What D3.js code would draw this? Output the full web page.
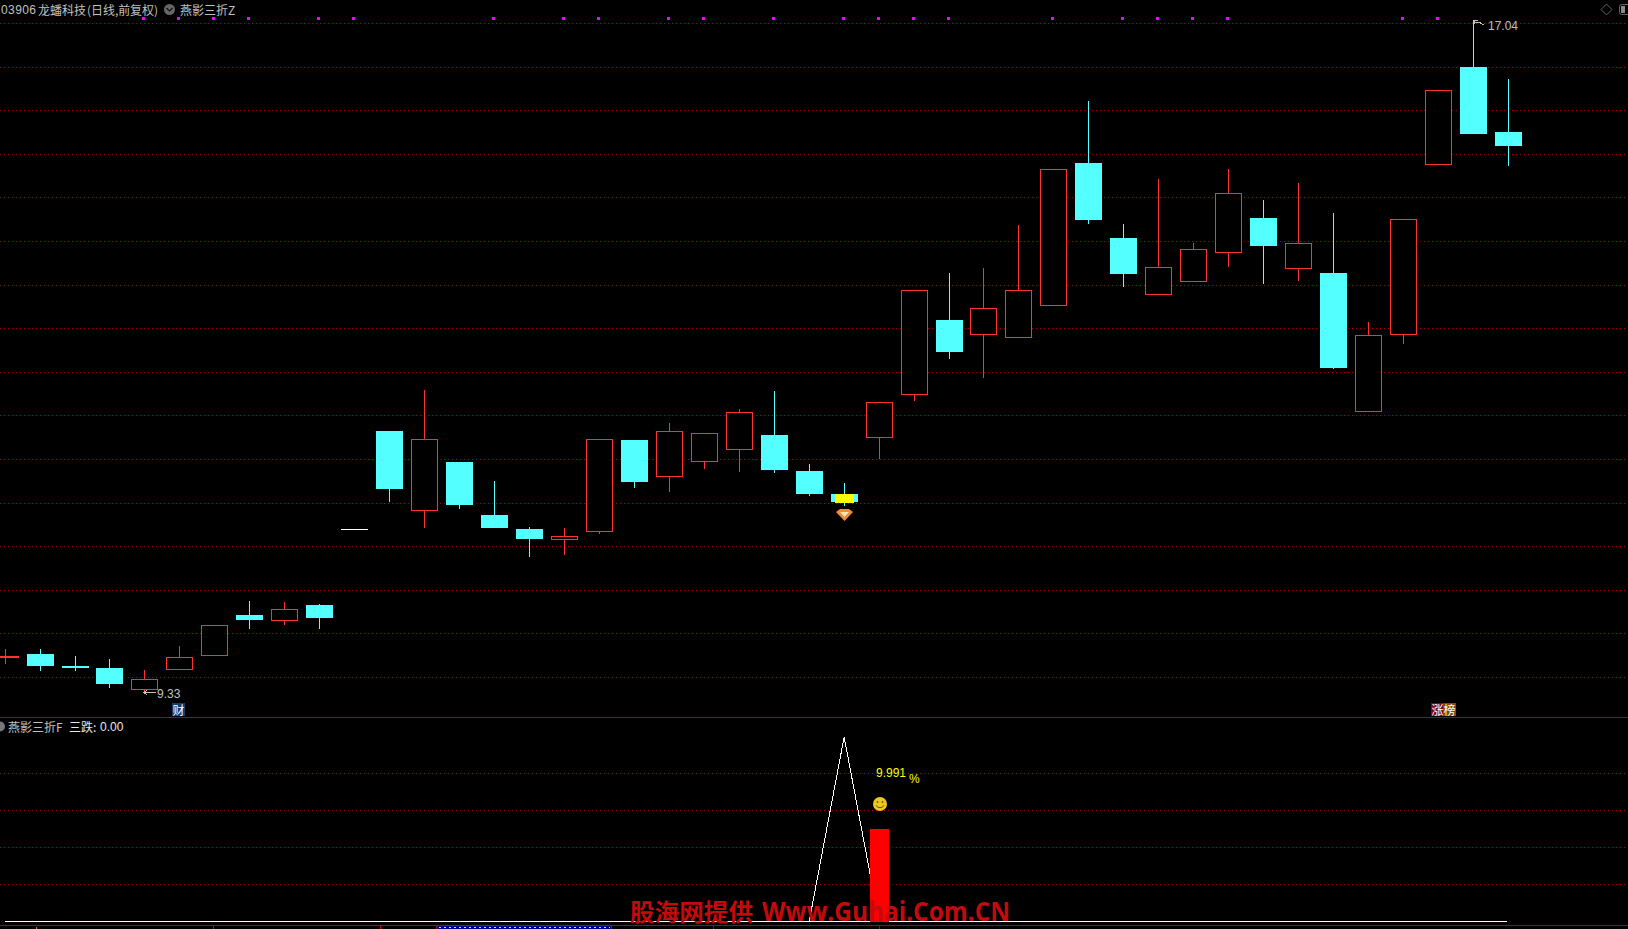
<!DOCTYPE html>
<html><head><meta charset="utf-8">
<script src="https://cdn.jsdelivr.net/npm/d3@7/dist/d3.min.js"></script>
<style>html,body{margin:0;padding:0;background:#000;overflow:hidden}svg{display:block}</style>
</head><body><svg id="c" width="1628" height="929"></svg>
<script>
// candle values (44 trading days)
const opens  = [9.73,9.77,9.63,9.61,9.36,9.59,9.75,10.22,10.15,10.33,11.20,12.33,11.41,11.97,11.36,11.20,11.08,11.17,12.22,11.80,11.97,12.11,12.28,11.87,11.60,12.25,12.74,13.60,13.43,13.39,13.76,15.40,14.54,13.89,14.04,14.37,14.77,14.19,14.14,12.54,13.43,15.38,16.50,15.76];
const closes = [9.75,9.63,9.61,9.43,9.48,9.74,10.10,10.16,10.28,10.18,11.20,11.66,12.23,11.48,11.21,11.09,11.12,12.23,11.74,12.33,12.30,12.54,11.88,11.60,11.51,12.66,13.94,13.23,13.74,13.94,15.33,14.75,14.13,14.21,14.41,15.06,14.45,14.48,13.05,13.43,14.76,16.24,15.73,15.60];
const highs  = [9.83,9.83,9.75,9.71,9.59,9.86,10.10,10.38,10.37,10.34,11.20,12.33,12.80,11.97,11.75,11.23,11.22,12.23,12.22,12.42,12.30,12.58,12.78,11.95,11.73,12.66,13.94,14.14,14.20,14.69,15.33,16.11,14.70,15.22,14.48,15.33,14.98,15.17,14.83,13.58,14.76,16.24,17.04,16.36];
const lows   = [9.66,9.57,9.57,9.38,9.33,9.59,9.75,10.06,10.10,10.06,11.20,11.51,11.21,11.43,11.21,10.88,10.91,11.15,11.67,11.63,11.89,11.86,11.85,11.58,11.47,12.01,12.67,13.15,12.94,13.39,13.76,14.70,13.98,13.89,14.04,14.21,14.01,14.05,13.04,12.54,13.33,15.38,15.73,15.37];
const flagDays = [4,5,6,7,9,10,14,16,17,19,20,22,24,25,26,27,30,32,33,34,35,40,41];
const priceGrid = [17,16.5,16,15.5,15,14.5,14,13.5,13,12.5,12,11.5,11,10.5,10,9.5];
const subGrid = [4,8,12,16];
const lineDays = [23,24,25];
const lineValues = [0,20,0];
const barDay = 25;
const barValue = 9.991;
const signalDay = 24;
const titleCode = "03906", titleName = "龙蟠科技", titleMode = "(日线,前复权)", titleMain = "燕影三折Z";
const subName = "燕影三折F", subField = "三跌:", subFieldValue = "0.00";
const watermarkCn = "股海网提供", watermarkEn = "Www.Guhai.Com.CN";

const W = 1628, H = 929;
const svg = d3.select("#c");
const x = d3.scaleLinear().domain([0,43]).range([5.1,1508.38]);
const y = d3.scaleLinear().domain([9.5,17]).range([677.5,23.5]);
const ySub = d3.scaleLinear().domain([0,20]).range([921.5,737]);
const px = v => Math.floor(x(v));
const py = v => Math.round(y(v));
const RED="#ff3232", CYAN="#54ffff", GRID="#a80000", LINE="#b00000", GRAY="#c0c0c0";
const CJK = "'Noto Sans CJK SC'", LAT = "'Liberation Sans'";
svg.append("rect").attr("width",W).attr("height",H).attr("fill","#000");

function txt(s,xx,yy,col,size,fam,anchor){
  return svg.append("text").attr("x",xx).attr("y",yy).attr("fill",col).attr("font-size",size)
    .attr("font-family",fam).attr("text-anchor",anchor||"start").attr("dominant-baseline","central").text(s);
}
// grids
const g = svg.append("g").attr("shape-rendering","crispEdges");
g.selectAll(".gp").data(priceGrid).enter().append("line").attr("x1",0).attr("x2",W)
  .attr("y1",d=>Math.floor(y(d))+.5).attr("y2",d=>Math.floor(y(d))+.5)
  .attr("stroke",GRID).attr("stroke-dasharray","1,3");
g.selectAll(".gs").data(subGrid).enter().append("line").attr("x1",0).attr("x2",W)
  .attr("y1",d=>Math.floor(ySub(d))+.5).attr("y2",d=>Math.floor(ySub(d))+.5)
  .attr("stroke",GRID).attr("stroke-dasharray","1,3");

// candles
const candles = opens.map((o,i)=>({i,o,c:closes[i],h:highs[i],l:lows[i]}));
const colorOf = d => d.o===d.c ? "#fff" : (d.c>d.o ? RED : CYAN);
const cg = svg.append("g").attr("shape-rendering","crispEdges");
candles.forEach(d=>{
  const col = colorOf(d), cx = px(d.i)+.5, top = py(Math.max(d.o,d.c)), bot = py(Math.min(d.o,d.c));
  if(py(d.h)<top) cg.append("line").attr("x1",cx).attr("x2",cx).attr("y1",py(d.h)).attr("y2",top).attr("stroke",col);
  if(py(d.l)>bot) cg.append("line").attr("x1",cx).attr("x2",cx).attr("y1",bot).attr("y2",py(d.l)).attr("stroke",col);
  if(d.o===d.c){
    cg.append("line").attr("x1",cx-13.5).attr("x2",cx+13.5).attr("y1",top+.5).attr("y2",top+.5).attr("stroke",col);
  } else if(d.c>d.o){
    cg.append("rect").attr("x",cx-13).attr("y",top+.5).attr("width",26).attr("height",Math.max(bot-top-1,1)).attr("fill","#000").attr("stroke",col);
  } else {
    cg.append("rect").attr("x",cx-13.5).attr("y",top).attr("width",27).attr("height",Math.max(bot-top,2)).attr("fill",col);
  }
});
// signal day: yellow block and diamond
const sx = px(signalDay);
cg.append("rect").attr("x",sx-9).attr("y",py(opens[signalDay])).attr("width",19)
  .attr("height",py(closes[signalDay])-py(opens[signalDay])+1).attr("fill","#ffff00");
const dy = py(lows[signalDay])+3;
svg.append("path").attr("d",`M${sx-8},${dy+3} L${sx-4},${dy} L${sx+5},${dy} L${sx+9},${dy+3} L${sx+.5},${dy+12} Z`).attr("fill","#f08a3c");
svg.append("path").attr("d",`M${sx-4},${dy+3} L${sx+5},${dy+3} L${sx+.5},${dy+8} Z`).attr("fill","#ffe6b0");

// flags along the top
svg.append("g").attr("shape-rendering","crispEdges").selectAll("rect").data(flagDays).enter().append("rect")
  .attr("x",d=>px(d)-2).attr("y",17).attr("width",3).attr("height",3).attr("fill","#ff00ff");

// high / low notes
const hi = d3.max(highs), lo = d3.min(lows), hiI = highs.indexOf(hi), loI = lows.indexOf(lo);
svg.append("path").attr("d",`M${px(hiI)+1},24 L${px(hiI)+1},20 L${px(hiI)+5},20 M${px(hiI)+1},22 L${px(hiI)+6},22 L${px(hiI)+9},24 L${px(hiI)+11},24`)
  .attr("fill","none").attr("stroke",GRAY).attr("shape-rendering","crispEdges");
txt(d3.format(".2f")(hi),1488,26,GRAY,12,LAT);
svg.append("path").attr("d",`M${px(loI)},692.5 L${px(loI)+12},692.5 M${px(loI)+3},690 L${px(loI)},692.5 L${px(loI)+3},695`)
  .attr("fill","none").attr("stroke",GRAY).attr("shape-rendering","crispEdges");
txt(d3.format(".2f")(lo),157,693.5,GRAY,12,LAT);

// title row
txt(titleCode,1,9.5,GRAY,12,LAT).attr("textLength",35);
txt(titleName,38,9.5,GRAY,12,CJK);
txt(titleMode,87,9.5,GRAY,12,CJK).attr("textLength",71).attr("lengthAdjust","spacingAndGlyphs");
svg.append("circle").attr("cx",169.5).attr("cy",9.5).attr("r",5.5).attr("fill","#666");
svg.append("path").attr("d","M166.5,8 L169.5,11 L172.5,8").attr("fill","none").attr("stroke","#111").attr("stroke-width",1.2);
txt(titleMain,180,9.5,GRAY,12,CJK);
// right-hand icons
svg.append("path").attr("d","M1606.5,4 L1612,9.5 L1606.5,15 L1601,9.5 Z").attr("fill","none").attr("stroke","#666");
svg.append("rect").attr("x",1619.5).attr("y",4.5).attr("width",12).attr("height",10).attr("rx",2).attr("fill","none").attr("stroke","#666");
svg.append("rect").attr("x",1621).attr("y",6).attr("width",4).attr("height",7).attr("fill","#888");

// badges
const bg = svg.append("g").attr("shape-rendering","crispEdges");
bg.append("rect").attr("x",172).attr("y",703).attr("width",13).attr("height",13).attr("fill","#0b3f70");
txt("财",172.5,709.5,"#fff",12,CJK);
bg.append("rect").attr("x",1431).attr("y",703).attr("width",13).attr("height",13).attr("fill","#800808");
bg.append("rect").attr("x",1443).attr("y",703).attr("width",13).attr("height",13).attr("fill","#804a08");
txt("涨",1431.5,709.5,"#fff",12,CJK);
txt("榜",1443.5,709.5,"#fff",12,CJK);

// panel separators
svg.append("line").attr("x1",0).attr("x2",W).attr("y1",717.5).attr("y2",717.5).attr("stroke",LINE).attr("shape-rendering","crispEdges");

// sub-panel title
svg.append("circle").attr("cx",0).attr("cy",726.5).attr("r",5).attr("fill","#777");
txt(subName,8,726.5,GRAY,12,CJK);
txt(subField,69,726.5,"#e8e8e8",12,CJK);
txt(subFieldValue,100,726.5,"#e8e8e8",12,LAT);

// sub-panel series
svg.append("line").attr("x1",5).attr("x2",1507).attr("y1",921.5).attr("y2",921.5).attr("stroke","#fff").attr("stroke-width",1).attr("shape-rendering","crispEdges");
const ln = d3.line().x((d,i)=>x(lineDays[i])).y(d=>ySub(d));
svg.append("path").datum(lineValues).attr("d",ln).attr("fill","none").attr("stroke","#fff").attr("stroke-width",1).attr("shape-rendering","crispEdges");
const barX = px(barDay);
svg.append("rect").attr("x",barX-9).attr("y",ySub(barValue)).attr("width",19).attr("height",ySub(0)-ySub(barValue)).attr("fill","#ff0000").attr("shape-rendering","crispEdges");
txt(d3.format(".3f")(barValue),876,773,"#ffff00",12,LAT);
txt("%",909,778.5,"#ffff00",12,LAT);
// smiley
svg.append("circle").attr("cx",880).attr("cy",804).attr("r",7).attr("fill","#f0c81e");
svg.append("circle").attr("cx",877.5).attr("cy",802).attr("r",.9).attr("fill","#553");
svg.append("circle").attr("cx",882.5).attr("cy",802).attr("r",.9).attr("fill","#553");
svg.append("path").attr("d","M876,805.5 Q880,810 884,805.5").attr("fill","none").attr("stroke","#553").attr("stroke-width",1);

// bottom axis strip
svg.append("line").attr("x1",0).attr("x2",W).attr("y1",925.5).attr("y2",925.5).attr("stroke",LINE).attr("shape-rendering","crispEdges");
const axisTicks = [213,380,713,879];
svg.append("g").attr("shape-rendering","crispEdges").selectAll("line").data(axisTicks).enter().append("line")
  .attr("x1",d=>d+.5).attr("x2",d=>d+.5).attr("y1",926).attr("y2",929).attr("stroke",LINE);
svg.append("line").attr("x1",36.5).attr("x2",36.5).attr("y1",927).attr("y2",929).attr("stroke","#e06060").attr("shape-rendering","crispEdges");
svg.append("rect").attr("x",436.5).attr("y",925.5).attr("width",175).attr("height",6).attr("fill","#00008c").attr("stroke",LINE).attr("shape-rendering","crispEdges");
svg.append("line").attr("x1",439).attr("x2",610).attr("y1",927.5).attr("y2",927.5).attr("stroke","#dde").attr("stroke-dasharray","2,3").attr("shape-rendering","crispEdges");

// watermark
const WM="#c40a0a";
svg.append("text").attr("x",630).attr("y",921).attr("fill",WM).attr("font-size",24).attr("font-weight",700)
  .attr("font-family",CJK).attr("textLength",123).attr("lengthAdjust","spacingAndGlyphs").text(watermarkCn);
svg.append("text").attr("x",762).attr("y",921).attr("fill",WM).attr("font-size",26).attr("font-weight",700)
  .attr("font-family","'Open Sans'").attr("textLength",248).attr("lengthAdjust","spacingAndGlyphs").text(watermarkEn);
</script></body></html>
